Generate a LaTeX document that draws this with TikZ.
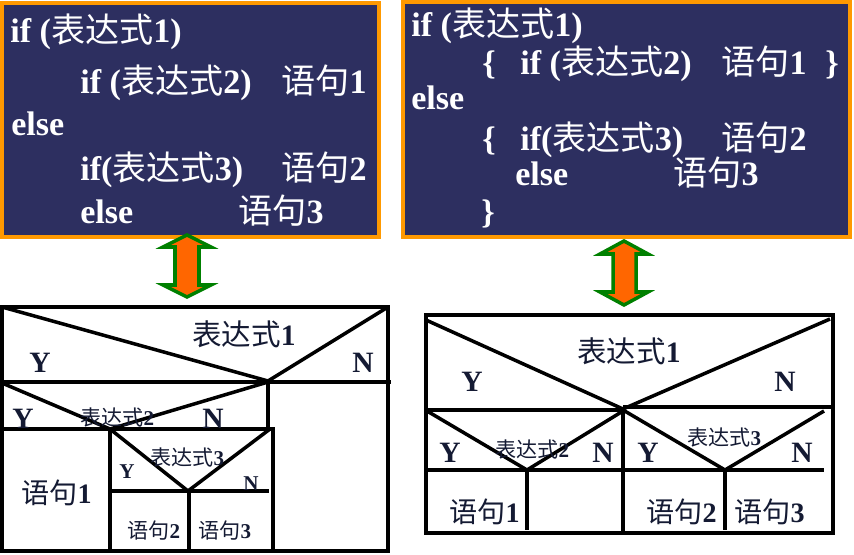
\documentclass[tikz,border=0pt]{standalone}
\usepackage{fontspec}
\setmainfont{Liberation Serif}
\newfontfamily\cjk{Noto Sans CJK SC}
\definecolor{boxblue}{HTML}{2D2F60}
\definecolor{boxedge}{HTML}{FF9900}
\definecolor{arrowedge}{HTML}{008000}
\definecolor{arrowfill}{HTML}{FF6600}
\definecolor{inkblue}{HTML}{141A33}
\newcommand{\zh}[1]{{\cjk\mdseries #1}}
\tikzset{
    every node/.style={anchor=base west, inner sep=0pt},
    codebox/.style={draw=boxedge, fill=boxblue, line width=2pt},
    codeline/.style={white, font=\fontsize{19.4}{21}\selectfont\bfseries},
    updown/.style={draw=arrowedge, fill=arrowfill, line width=2pt, miter limit=10},
    bigtext/.style={inkblue, font=\fontsize{16.8}{18}\selectfont\bfseries},
    midtext/.style={inkblue, font=\fontsize{16}{18}\selectfont\bfseries},
    smalltext/.style={inkblue, font=\fontsize{12}{14}\selectfont\bfseries},
    chart/.style={line width=2pt, black}
}

\begin{document}
\begin{tikzpicture}[x=0.02cm, y=-0.02cm]
\useasboundingbox (0,0) rectangle (854,554);
% Code boxes
    \draw[codebox] (2,3) rectangle (379,237);
    \draw[codebox] (403,2) rectangle (850,237);
% Left code
    \node[codeline] (la) at (10,43) {if (\zh{表达式}1)};
    \node[codeline] (lb) at (80,93) {if (\zh{表达式}2)};
    \node[codeline] (lc) at (281,93) {\zh{语句}1};
    \node[codeline] (ld) at (11,135) {else};
    \node[codeline] (le) at (80,180) {if(\zh{表达式}3)};
    \node[codeline] (lf) at (281,180) {\zh{语句}2};
    \node[codeline] (lg) at (80,223) {else};
    \node[codeline] (lh) at (238,223) {\zh{语句}3};
% Right code
    \node[codeline] (ra) at (411,37) {if (\zh{表达式}1)};
    \node[codeline] (rb) at (482,74) {\{};
    \node[codeline] (rc) at (520,74) {if (\zh{表达式}2)};
    \node[codeline] (rd) at (721,74) {\zh{语句}1};
    \node[codeline] (re) at (825,74) {\}};
    \node[codeline] (rf) at (411,110) {else};
    \node[codeline] (rg) at (482,150) {\{};
    \node[codeline] (rh) at (520,150) {if(\zh{表达式}3)};
    \node[codeline] (ri) at (721,150) {\zh{语句}2};
    \node[codeline] (rj) at (515,185) {else};
    \node[codeline] (rk) at (673,185) {\zh{语句}3};
    \node[codeline] (rl) at (481,223) {\}};
% Arrows
    \draw[updown] (187,235) -- (163,247) -- (175,247) -- (175,285) -- (163,285) -- (187,297)
        -- (211,285) -- (199,285) -- (199,247) -- (211,247) -- cycle;
    \draw[updown] (624,241) -- (600,254) -- (613,254) -- (613,292) -- (600,292) -- (624,305)
        -- (648,292) -- (636,292) -- (636,254) -- (648,254) -- cycle;
% Left chart
    \draw[chart] (2,307) rectangle (388,551);
    \draw[chart] (0,382) -- (391,382);
    \draw[chart] (2,307) -- (268,381) -- (388,307);
    \draw[chart] (268,382) -- (268,429);
    \draw[chart] (2,429) -- (273,429) -- (273,551);
    \draw[chart] (2,383) -- (110,429) -- (268,382);
    \draw[chart] (110,429) -- (110,551);
    \draw[chart] (110,429) -- (188,491) -- (270,429);
    \draw[chart] (108,491) -- (269,491);
    \draw[chart] (189,491) -- (189,551);
% Left chart labels
    \node[bigtext] (lcond) at (192,345) {\zh{表达式}1};
    \node[bigtext] (lyes) at (29,372) {Y};
    \node[bigtext] (lno) at (352,372) {N};
    \node[smalltext] (lcondb) at (80,425) {\zh{表达式}2};
    \node[bigtext] (lyesb) at (12,428) {Y};
    \node[bigtext] (lnob) at (202,428) {N};
    \node[smalltext] (lcondc) at (150,465) {\zh{表达式}3};
    \node[smalltext] (lyesc) at (119,478) {Y};
    \node[smalltext] (lnoc) at (243,490) {N};
    \node[midtext] (lsa) at (21,503) {\zh{语句}1};
    \node[smalltext] (lsb) at (127,538) {\zh{语句}2};
    \node[smalltext] (lsc) at (198,538) {\zh{语句}3};
% Right chart
    \draw[chart] (426,315) rectangle (833,533);
    \draw[chart] (426,320) -- (623,409) -- (830,319);
    \draw[chart] (424,410) -- (623,410);
    \draw[chart] (623,407) -- (833,407);
    \draw[chart] (427,411) -- (527,470) -- (623,411);
    \draw[chart] (623,410) -- (725,470) -- (824,411);
    \draw[chart] (428,470) -- (824,470);
    \draw[chart] (527,470) -- (527,530);
    \draw[chart] (623,407) -- (623,533);
    \draw[chart] (725,470) -- (725,530);
% Right chart labels
    \node[bigtext] (rcond) at (577,362) {\zh{表达式}1};
    \node[bigtext] (ryes) at (461,391) {Y};
    \node[bigtext] (rno) at (774,391) {N};
    \node[smalltext] (rcondb) at (495,457) {\zh{表达式}2};
    \node[bigtext] (ryesb) at (439,462) {Y};
    \node[bigtext] (rnob) at (592,462) {N};
    \node[smalltext] (rcondc) at (687,445) {\zh{表达式}3};
    \node[bigtext] (ryesc) at (637,462) {Y};
    \node[bigtext] (rnoc) at (791,462) {N};
    \node[midtext] (rsa) at (449,522) {\zh{语句}1};
    \node[midtext] (rsb) at (646,522) {\zh{语句}2};
    \node[midtext] (rsc) at (734,522) {\zh{语句}3};
\end{tikzpicture}
\end{document}
